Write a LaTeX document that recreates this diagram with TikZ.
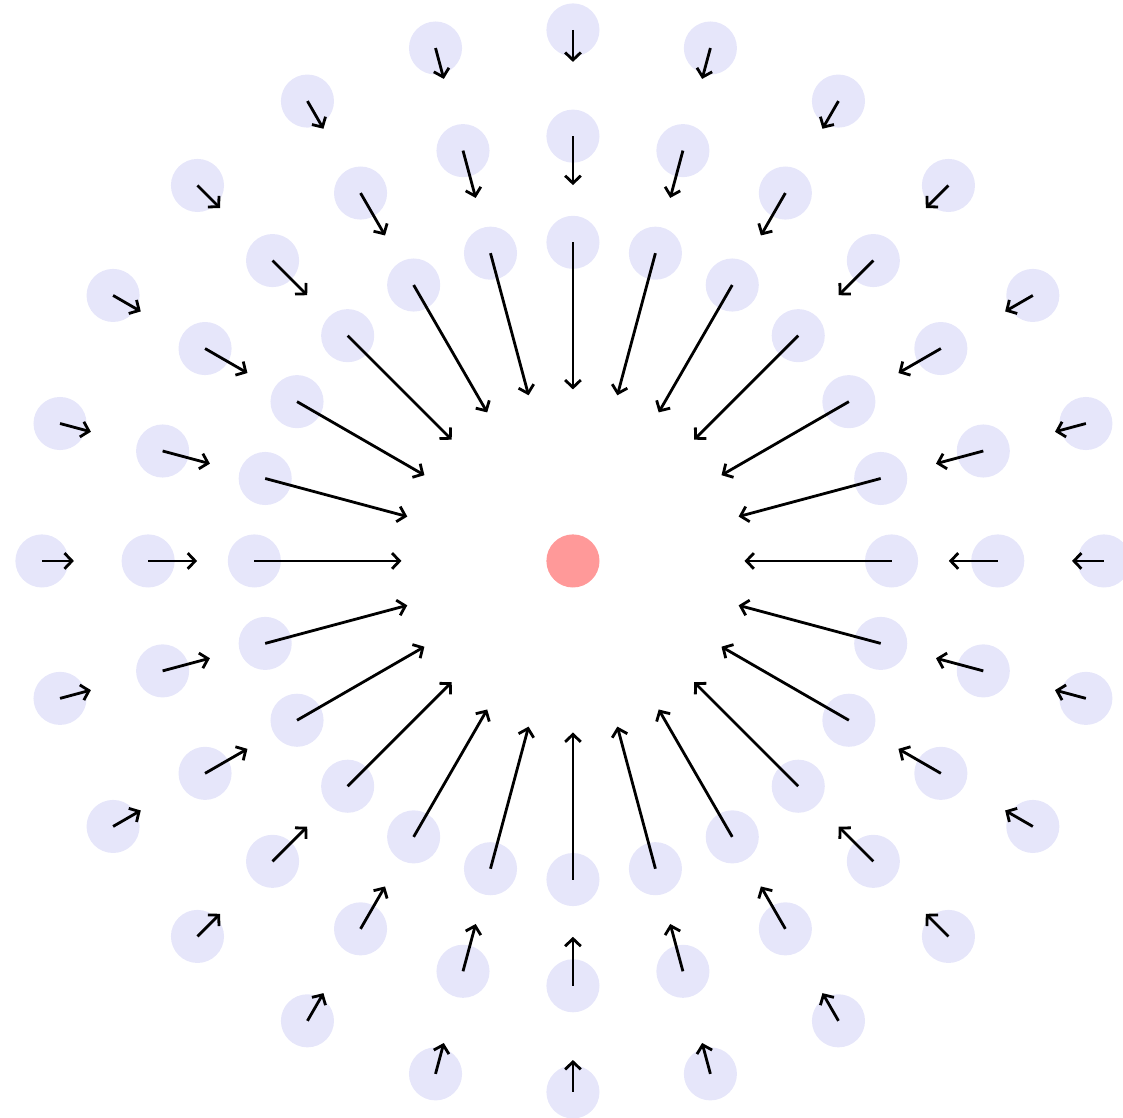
\documentclass[tikz,border=0pt]{standalone}
\usepackage{tikz}
\usetikzlibrary{arrows.meta, calc}

\definecolor{probeblue}{RGB}{230,230,250}
\definecolor{chargered}{RGB}{255,153,153}

\begin{document}
\begin{tikzpicture}[
        charge/.style={circle, fill=chargered, minimum size=0.5cm, inner sep=0pt},
        probe/.style={circle, fill=probeblue, minimum size=0.5cm, inner sep=0pt},
        field/.style={-{Straight Barb[length=2pt, width=4.2pt]}, line width=0.75pt, black}
    ]
        \useasboundingbox (-5.395,-5.245) rectangle (5.179,5.282);

        \node[charge] (q) at (0,0) {};

        % three rings of test points, arrows point to the charge
        \foreach \r/\len in {3/1.385, 4/0.461, 5/0.301} {
            \foreach \a in {0,15,...,345} {
                \node[probe] (p-\r-\a) at (\a:\r) {};
                \coordinate (e-\r-\a) at (\a:{\r-\len});
                \draw[field] (p-\r-\a.center) -- (e-\r-\a);
            }
        }
    \end{tikzpicture}
\end{document}
